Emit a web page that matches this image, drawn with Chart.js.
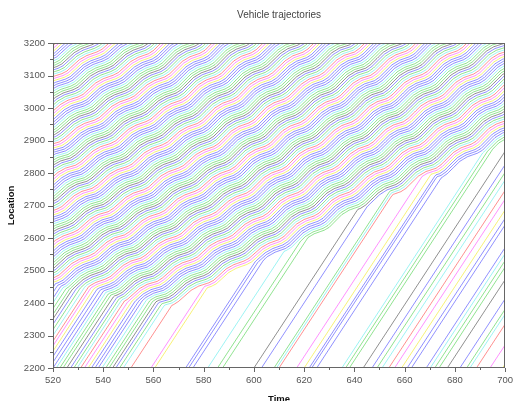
<!DOCTYPE html>
<html>
<head>
<meta charset="utf-8">
<script src="https://cdn.jsdelivr.net/npm/chart.js@4"></script>
<style>
  html, body { margin: 0; background: #fff; }
  #wrap { width: 520px; height: 401px; }
</style>
</head>
<body>
<div id="wrap"><canvas id="traj"></canvas></div>
<script>
// lead vehicle (top of the queue): slow / speed-up / fast / ease waves
const leadTimes = [
  400, 404, 406, 411, 414, 418, 420, 425, 428, 432, 434, 439, 442, 446, 448, 453, 456, 460, 462, 467,
  470, 474, 476, 481, 484, 488, 490, 495, 498, 502, 504, 509, 512, 516, 518, 523, 526, 530, 532, 537,
  540, 544, 546, 551, 554, 558, 560, 565, 568, 572, 574, 579, 582, 586, 588, 593, 596, 600, 602, 607,
  610, 614, 616, 621, 624, 628, 630, 635, 638, 642, 644, 649, 652, 656, 658, 663, 666, 670, 672, 677,
  680, 684, 686, 691, 694, 698, 700];
const leadLocs = [
  2650, 2660, 2669, 2703, 2716, 2725, 2735, 2770, 2782, 2792, 2800, 2835, 2848, 2859, 2867, 2901, 2914, 2923, 2933, 2966,
  2980, 2990, 2998, 3033, 3046, 3057, 3065, 3099, 3112, 3121, 3131, 3165, 3178, 3188, 3196, 3231, 3244, 3255, 3263, 3297,
  3310, 3321, 3331, 3369, 3383, 3394, 3403, 3442, 3456, 3467, 3477, 3514, 3529, 3540, 3550, 3588, 3602, 3612, 3623, 3661,
  3675, 3686, 3695, 3734, 3748, 3759, 3769, 3807, 3821, 3831, 3842, 3880, 3894, 3905, 3915, 3952, 3967, 3978, 3988, 4026,
  4040, 4051, 4061, 4099, 4113, 4124, 4134];

// vehicles already queued at t=520 (behind the lead)
const queuedCount = 95;

// times at which the free-flowing vehicles pass Location 2200 (bottom edge)
const arrivalTimes = [497.5, 499, 500.3, 501.8, 503, 504.5, 506, 507.2, 508.6, 510, 511.5, 513, 514.2, 515.6, 517, 518.5,
  520, 521.3, 522.7, 524, 525.5, 527, 528.3, 529.6, 531, 532.5, 534, 535.3, 536.7, 538, 539.5, 541, 542.3, 543.7, 545, 546.5, 548,
  551, 559, 560.5, 572.8, 574, 575.7, 581.6, 585.5, 587.5,
  600, 603, 608, 609, 610, 617, 620, 622, 623, 625, 635, 636.5, 638,
  643.5, 647, 649, 651, 653.7, 656, 658.8, 661, 662.7, 668.6, 670.2, 672, 673.7,
  677, 682, 684.7, 686, 688.6, 694, 699];

const freeSpeed = 11.8;   // slope of the straight lines
const jamGap = 5.5;       // follower sits this far behind ...
const lag = 0.5;          // ... this many seconds later
const entryLoc = 2200;

const xTickValues = [520, 540, 560, 580, 600, 620, 640, 660, 680, 700];
const yTickValues = [2200, 2300, 2400, 2500, 2600, 2700, 2800, 2900, 3000, 3100, 3200];

const colorCycle = ['black', 'blue', 'green', 'cyan', 'red', 'magenta', 'yellow', 'blue', 'blue', 'blue', 'cyan', 'green', 'green'];
const rgba = {
  black: 'rgba(0,0,0,0.45)',
  blue: 'rgba(0,0,255,0.45)',
  green: 'rgba(0,190,0,0.45)',
  cyan: 'rgba(0,225,225,0.4)',
  red: 'rgba(255,0,0,0.45)',
  magenta: 'rgba(255,0,255,0.45)',
  yellow: 'rgba(240,230,0,0.55)',
};

function leadAt(t) {
  for (let i = 1; i < leadTimes.length; i++) {
    if (t <= leadTimes[i]) {
      const f = (t - leadTimes[i - 1]) / (leadTimes[i] - leadTimes[i - 1]);
      return leadLocs[i - 1] + f * (leadLocs[i] - leadLocs[i - 1]);
    }
  }
  return leadLocs[leadLocs.length - 1];
}

// follow-the-leader: each vehicle is either free or held behind the one ahead
const t0 = leadTimes[0];
const steps = Math.round((700 - t0) / lag);
const times = [];
for (let k = 0; k <= steps; k++) times.push(t0 + k * lag);

const total = queuedCount + arrivalTimes.length;
const anchor = queuedCount + arrivalTimes.indexOf(551); // that one is red
const datasets = [];
let prev = times.map(leadAt);
for (let n = 0; n < total; n++) {
  let cur;
  if (n === 0) {
    cur = prev;
  } else {
    const a = n < queuedCount ? null : arrivalTimes[n - queuedCount];
    const free = t => (a === null ? Infinity : entryLoc + freeSpeed * (t - a));
    cur = times.map((t, k) => Math.min(free(t), k === 0 ? prev[0] - 8 : prev[k - 1] - jamGap));
  }
  const pts = [];
  times.forEach((t, k) => { if (t >= 518) pts.push({ x: t, y: cur[k] }); });
  const c = colorCycle[(((n - anchor + 4) % 13) + 13) % 13];
  datasets.push({
    data: pts,
    borderColor: rgba[c],
    borderWidth: 1,
    pointRadius: 0,
    fill: false,
    tension: 0,
  });
  prev = cur;
}

const font = { family: 'Liberation Sans, Arial, sans-serif', size: 9.5 };

const frame = {
  id: 'frame',
  afterDraw(chart) {
    const { ctx, chartArea: a, scales: { x, y } } = chart;
    ctx.save();
    ctx.strokeStyle = '#666';
    ctx.lineWidth = 1;
    ctx.strokeRect(Math.round(a.left) + 0.5, Math.round(a.top) + 0.5, Math.round(a.width) - 1, Math.round(a.height) - 1);
    ctx.beginPath();
    for (let i = 0; i < xTickValues.length; i++) {
      const v = xTickValues[i];
      const px = Math.round(x.getPixelForValue(v)) + 0.5;
      ctx.moveTo(px, a.bottom); ctx.lineTo(px, a.bottom + 4);
      if (i < xTickValues.length - 1) {
        const m = Math.round(x.getPixelForValue((v + xTickValues[i + 1]) / 2)) + 0.5;
        ctx.moveTo(m, a.bottom); ctx.lineTo(m, a.bottom + 2);
      }
    }
    for (let i = 0; i < yTickValues.length; i++) {
      const v = yTickValues[i];
      const py = Math.round(y.getPixelForValue(v)) + 0.5;
      ctx.moveTo(a.left, py); ctx.lineTo(a.left - 5, py);
      if (i < yTickValues.length - 1) {
        const m = Math.round(y.getPixelForValue((v + yTickValues[i + 1]) / 2)) + 0.5;
        ctx.moveTo(a.left, m); ctx.lineTo(a.left - 3, m);
      }
    }
    ctx.stroke();
    ctx.restore();
  }
};

new Chart(document.getElementById('traj'), {
  type: 'line',
  data: { datasets },
  plugins: [frame],
  options: {
    responsive: true,
    maintainAspectRatio: false,
    animation: false,
    events: [],
    layout: { padding: { left: 0, right: 8, top: 0, bottom: 0 } },
    plugins: {
      legend: { display: false },
      tooltip: { enabled: false },
      title: {
        display: true,
        text: 'Vehicle trajectories',
        fullSize: false,
        color: '#444',
        font: { family: font.family, size: 10, weight: 'normal' },
        padding: { top: 9, bottom: 22 },
      },
    },
    scales: {
      x: {
        type: 'linear',
        min: 520,
        max: 700,
        border: { display: false },
        grid: { display: false, drawTicks: false },
        afterBuildTicks(scale) { scale.ticks = xTickValues.map(v => ({ value: v })); },
        ticks: { color: '#555', font, padding: 7, maxRotation: 0, autoSkip: false, callback: v => String(v) },
        title: { display: true, text: 'Time', color: '#111', font: { family: font.family, size: 9.5, weight: 'bold' }, padding: { top: 0, bottom: -4 } },
        afterFit(scale) { scale.height = 33; },
      },
      y: {
        type: 'linear',
        min: 2200,
        max: 3200,
        border: { display: false },
        grid: { display: false, drawTicks: false },
        afterBuildTicks(scale) { scale.ticks = yTickValues.map(v => ({ value: v })); },
        ticks: { color: '#555', font, padding: 8, autoSkip: false, callback: v => String(v) },
        title: { display: true, text: 'Location', color: '#111', font: { family: font.family, size: 9.5, weight: 'bold' }, padding: { top: 6, bottom: 0 } },
        afterFit(scale) { scale.width = 53; },
      },
    },
  },
});
</script>
</body>
</html>
